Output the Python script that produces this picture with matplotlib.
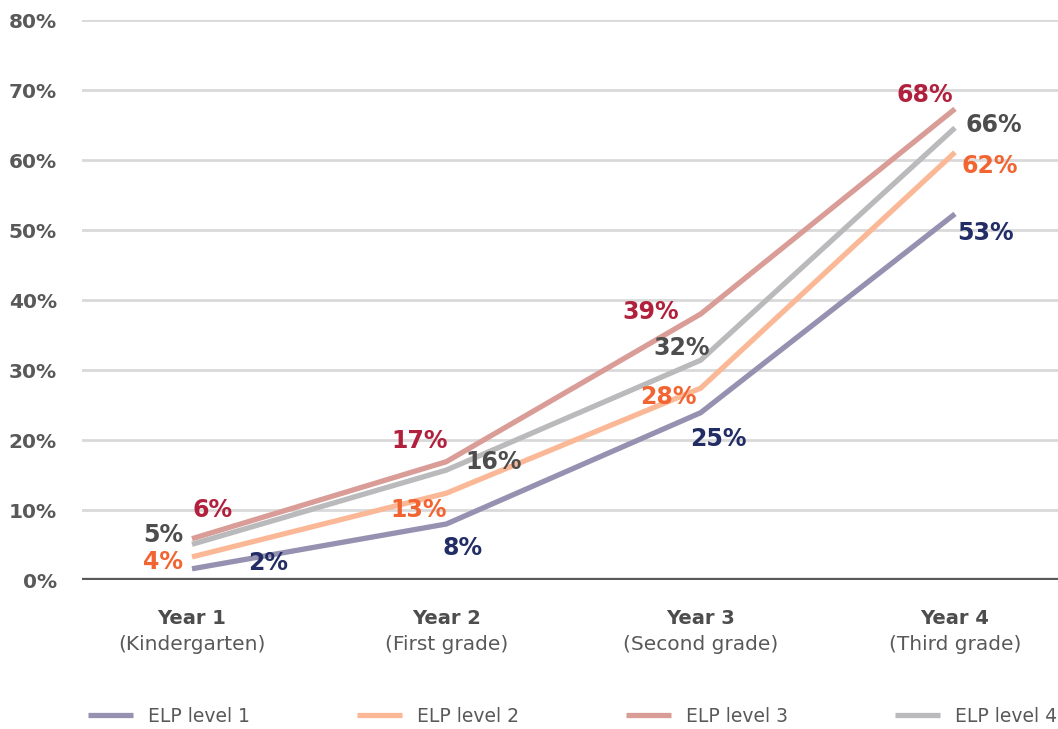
import numpy as np
import matplotlib.pyplot as plt

# data
years = ["Year 1", "Year 2", "Year 3", "Year 4"]
grades = ["(Kindergarten)", "(First grade)", "(Second grade)", "(Third grade)"]
series_names = ["ELP level 1", "ELP level 2", "ELP level 3", "ELP level 4"]

elp1 = [1.6, 8.0, 23.9, 52.3]
elp2 = [3.3, 12.4, 27.4, 61.1]
elp3 = [5.9, 16.9, 38.0, 67.3]
elp4 = [5.1, 15.7, 31.4, 64.6]

elp1_labels = ["2%", "8%", "25%", "53%"]
elp2_labels = ["4%", "13%", "28%", "62%"]
elp3_labels = ["6%", "17%", "39%", "68%"]
elp4_labels = ["5%", "16%", "32%", "66%"]

yticks = [0, 10, 20, 30, 40, 50, 60, 70, 80]

# styling
line_colors = ["#9691b1", "#fbb896", "#d99c96", "#bababc"]
label_colors = ["#222d66", "#f26431", "#b1213d", "#4d4d4d"]
# label offsets in points (dx, dy) from each data point
offsets = [
    [(55, 4), (12, -17), (13, -19), (22, -14)],
    [(-21, -4), (-20, -12), (-23, -6), (25, -10)],
    [(15, 21), (-19, 15), (-36, 1.5), (-22, 10)],
    [(-21, 7), (34, 6), (-14, 9), (28, 2)],
]

plt.rcParams['font.family'] = ['DejaVu Sans']

fig = plt.figure(figsize=(10.58, 7.29), dpi=100)
ax = fig.add_axes([82 / 1058, (729 - 580) / 729, (1058 - 82) / 1058, 560 / 729])

x = np.arange(len(years))
all_vals = [elp1, elp2, elp3, elp4]
all_labels = [elp1_labels, elp2_labels, elp3_labels, elp4_labels]

for y in yticks[1:]:
    ax.axhline(y, color="#d9d9d9", lw=2, zorder=0)
ax.axhline(0, color="#595959", lw=3.8, zorder=1)

for i, (vals, name) in enumerate(zip(all_vals, series_names)):
    ax.plot(x, vals, color=line_colors[i], lw=3.8, label=name,
            solid_capstyle="butt", zorder=2)

for i, (vals, labs) in enumerate(zip(all_vals, all_labels)):
    for j in range(len(x)):
        ax.annotate(labs[j], (x[j], vals[j]), xytext=offsets[i][j],
                    textcoords="offset points", ha="center", va="center",
                    fontsize=17, fontweight="bold", color=label_colors[i], zorder=3)

ax.set_xlim(-0.4325, 3.405)
ax.set_ylim(0, 80)
ax.set_yticks(yticks)
ax.set_yticklabels([f"{t}%" for t in yticks], fontsize=14.5, fontweight="bold", color="#595959")
ax.tick_params(axis="y", length=0, pad=18)
ax.set_xticks([])
for s in ax.spines.values():
    s.set_visible(False)

tr = ax.get_xaxis_transform()
for j in range(len(x)):
    ax.text(x[j], -0.068, years[j], transform=tr, ha="center", va="center",
            fontsize=14, fontweight="bold", color="#4d4d4d")
    ax.text(x[j], -0.116, grades[j], transform=tr, ha="center", va="center",
            fontsize=14.5, color="#595959")

fig.legend(loc="center left", bbox_to_anchor=(88 / 1058, 13 / 729), ncol=4,
           frameon=False, fontsize=13.5, handlelength=2.4, handletextpad=0.8,
           columnspacing=5.7, borderpad=0, borderaxespad=0,
           labelcolor="#595959")

fig.savefig("out.png", dpi=100)
